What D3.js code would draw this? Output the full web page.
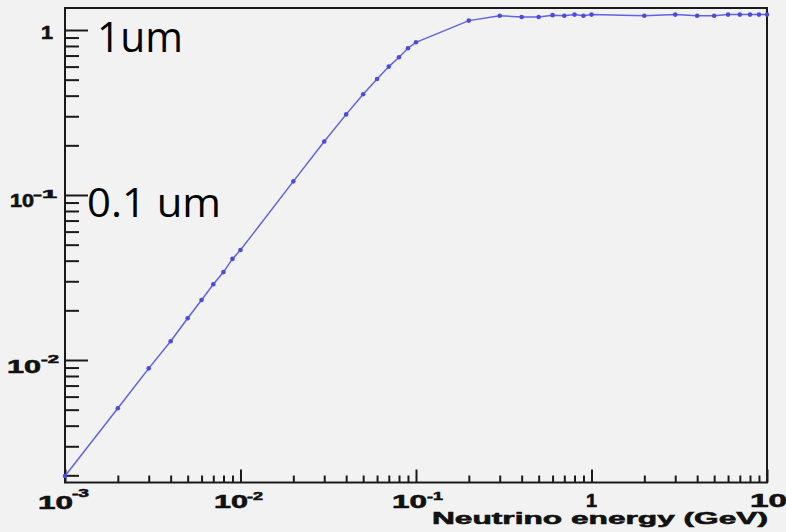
<!DOCTYPE html>
<html>
<head>
<meta charset="utf-8">
<script src="https://cdn.jsdelivr.net/npm/d3@7/dist/d3.min.js"></script>
<style>
  html, body { margin: 0; padding: 0; background: #f2f2f2; }
  svg { display: block; }
  .lab { font-family: "Liberation Sans", Arial, sans-serif; font-weight: bold; fill: #111; stroke: #111; stroke-width: 0.6px; }
  .note { font-family: "Open Sans", "Noto Sans", sans-serif; fill: #000; }
</style>
</head>
<body>
<svg id="chart" width="786" height="532"></svg>
<script>
// Neutrino energy (GeV) vs. length (um)
const energy = [
  0.001, 0.002, 0.003, 0.004, 0.005, 0.006, 0.007, 0.008, 0.009,
  0.01, 0.02, 0.03, 0.04, 0.05, 0.06, 0.07, 0.08, 0.09,
  0.1, 0.2, 0.3, 0.4, 0.5, 0.6, 0.7, 0.8, 0.9,
  1, 2, 3, 4, 5, 6, 7, 8, 9, 10
];
const length = [
  0.00198, 0.0051, 0.0089, 0.0130, 0.0179, 0.0231, 0.0288, 0.0341, 0.041,
  0.0464, 0.121, 0.211, 0.308, 0.408, 0.505, 0.60, 0.684, 0.775,
  0.842, 1.14, 1.22, 1.20, 1.20, 1.23, 1.22, 1.24, 1.22,
  1.24, 1.22, 1.24, 1.22, 1.22, 1.24, 1.24, 1.24, 1.24, 1.24
];
const xMajor = [0.001, 0.01, 0.1, 1, 10];
const yMajor = [0.01, 0.1, 1];
const xTickLabels = [
  { base: "10", exp: "-3" }, { base: "10", exp: "-2" }, { base: "10", exp: "-1" },
  { base: "1", exp: "" }, { base: "10", exp: "" }
];
const yTickLabels = [
  { base: "10", exp: "-2" }, { base: "10", exp: "-1" }, { base: "1", exp: "" }
];
const xTitle = "Neutrino energy (GeV)";
const notes = [
  { text: "1um", x: 97, y: 52, size: 42, len: 86 },
  { text: "0.1 um", x: 87, y: 217, size: 40, len: 134 }
];

const svg = d3.select("#chart");
const L = 65, R = 767, T = 8, B = 482.5;

const x = d3.scaleLog().domain([0.001, 10]).range([L, R]);
const y = d3.scaleLog().domain([Math.pow(10, -2.7424), Math.pow(10, 0.1333)]).range([B, T]);

// minor ticks: 2..9 within each decade
function minors(lo, hi) {
  const out = [];
  for (let e = Math.floor(Math.log10(lo)); e < Math.ceil(Math.log10(hi)); e++) {
    for (let k = 2; k <= 9; k++) {
      const v = k * Math.pow(10, e);
      if (v > lo && v < hi) out.push(v);
    }
  }
  return out;
}

const axisColor = "#1a1a1a";
const frame = svg.append("g");
frame.append("rect")
  .attr("x", L).attr("y", T).attr("width", R - L).attr("height", B - T)
  .attr("fill", "none").attr("stroke", axisColor).attr("stroke-width", 2);

// x axis ticks (pointing up, into the frame)
const xAxis = d3.axisTop(x).tickValues(xMajor).tickSize(13).tickFormat("");
const gx = svg.append("g").attr("transform", `translate(0,${B})`).call(xAxis);
const xAxisMinor = d3.axisTop(x).tickValues(minors(0.001, 10)).tickSize(7).tickFormat("");
const gxm = svg.append("g").attr("transform", `translate(0,${B})`).call(xAxisMinor);

// y axis ticks (pointing right, into the frame)
const yAxis = d3.axisRight(y).tickValues(yMajor).tickSize(23).tickFormat("");
const gy = svg.append("g").attr("transform", `translate(${L},0)`).call(yAxis);
const yAxisMinor = d3.axisRight(y).tickValues(minors(y.domain()[0], y.domain()[1])).tickSize(14).tickFormat("");
const gym = svg.append("g").attr("transform", `translate(${L},0)`).call(yAxisMinor);

[gx, gxm, gy, gym].forEach(g => {
  g.select(".domain").remove();
  g.selectAll("line").attr("stroke", axisColor).attr("stroke-width", 2);
});

// tick labels
const xLabPos = [
  { bx: 38, by: 509, bl: 35, ex: 72, ey: 497, el: 17 },
  { bx: 214, by: 508, bl: 34, ex: 247, ey: 500, el: 16 },
  { bx: 392, by: 508, bl: 35, ex: 427, ey: 500, el: 16 },
  { bx: 586, by: 507, bl: 11, ex: 0, ey: 0, el: 0 },
  { bx: 750, by: 507, bl: 37, ex: 0, ey: 0, el: 0 }
];
const yLabPos = [
  { bx: 7, by: 373, bl: 34, ex: 41, ey: 363, el: 18 },
  { bx: 10, by: 207, bl: 24, ex: 33, ey: 198, el: 24 },
  { bx: 41, by: 39, bl: 12, ex: 0, ey: 0, el: 0 }
];
function drawLabel(lab, p, size) {
  svg.append("text").attr("class", "lab")
    .attr("x", p.bx).attr("y", p.by).attr("font-size", size)
    .attr("textLength", p.bl).attr("lengthAdjust", "spacingAndGlyphs")
    .text(lab.base);
  if (lab.exp) {
    svg.append("text").attr("class", "lab")
      .attr("x", p.ex).attr("y", p.ey).attr("font-size", size * 0.62)
      .attr("textLength", p.el).attr("lengthAdjust", "spacingAndGlyphs")
      .text(lab.exp);
  }
}
xTickLabels.forEach((lab, i) => drawLabel(lab, xLabPos[i], 19));
yTickLabels.forEach((lab, i) => drawLabel(lab, yLabPos[i], i === 1 ? 18 : 19));

// axis title
svg.append("text").attr("class", "lab")
  .attr("x", 432).attr("y", 524).attr("font-size", 17)
  .attr("textLength", 336).attr("lengthAdjust", "spacingAndGlyphs")
  .text(xTitle);

// data curve
const pts = energy.map((e, i) => [e, length[i]]);
const line = d3.line().x(d => x(d[0])).y(d => y(d[1]));
const plot = svg.append("g");
plot.append("path").datum(pts)
  .attr("d", line).attr("fill", "none")
  .attr("stroke", "#6262e2").attr("stroke-width", 1.5);
plot.selectAll("circle").data(pts).join("circle")
  .attr("cx", d => x(d[0])).attr("cy", d => y(d[1])).attr("r", 2.3)
  .attr("fill", "#4c4cdc");

// annotations
notes.forEach(n => {
  svg.append("text").attr("class", "note")
    .attr("x", n.x).attr("y", n.y).attr("font-size", n.size)
    .attr("textLength", n.len).attr("lengthAdjust", "spacingAndGlyphs")
    .text(n.text);
});
</script>
</body>
</html>
